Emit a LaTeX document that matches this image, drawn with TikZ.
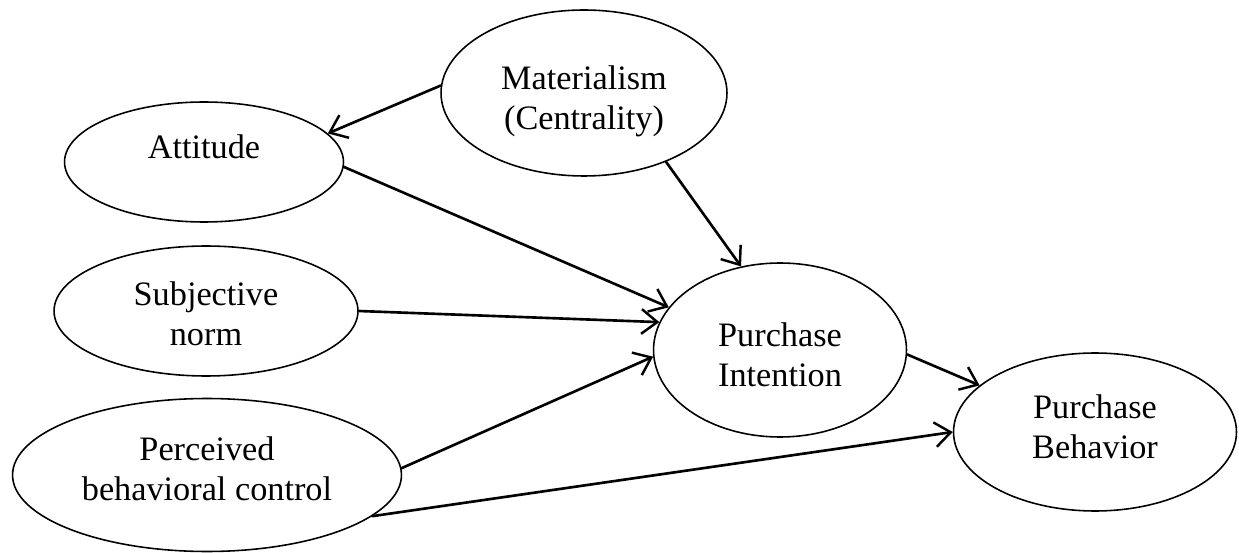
\documentclass[tikz,border=0pt]{standalone}
\usepackage{fontspec}
\setmainfont{Liberation Serif}
\usetikzlibrary{shapes.geometric,arrows.meta}

\begin{document}
\begin{tikzpicture}[
    x=0.02cm, y=-0.02cm,
    every node/.style={font=\fontsize{19.5}{22.8}\selectfont, align=center},
    construct/.style={ellipse, draw=black, line width=0.9pt, inner sep=0pt},
    path/.style={line width=1.5pt, -{Straight Barb[length=9pt,width=14pt,line width=1.4pt]}},
    line join=round,
    line cap=round
]

\useasboundingbox (0,0) rectangle (1239,553);

% ----------------------------------------------------
% Constructs
% ----------------------------------------------------
\node[construct, minimum width=5.72cm, minimum height=3.32cm] (mat) at (584,93) {};
\node[construct, minimum width=5.58cm, minimum height=2.40cm] (att) at (204,162) {};
\node[construct, minimum width=6.08cm, minimum height=2.60cm] (sn)  at (206,311) {};
\node[construct, minimum width=7.78cm, minimum height=3.06cm] (pbc) at (207,475) {};
\node[construct, minimum width=5.06cm, minimum height=3.48cm] (pi)  at (780,350) {};
\node[construct, minimum width=5.66cm, minimum height=3.16cm] (pb)  at (1095,432) {};

% ----------------------------------------------------
% Labels
% ----------------------------------------------------
\node (mat-t) at (584,101) {Materialism\\(Centrality)};
\node (att-t) at (204,147) {Attitude};
\node (sn-t)  at (206,314) {Subjective\\norm};
\node (pbc-t) at (207,469) {Perceived\\behavioral control};
\node (pi-t)  at (780,355) {Purchase\\Intention};
\node (pb-t)  at (1095,427) {Purchase\\Behavior};

% ----------------------------------------------------
% Paths
% ----------------------------------------------------
\draw[path] (mat.177) -- (att.13);
\draw[path] (att.-2) -- (pi.159);
\draw[path] (mat.-40) -- (pi.115);
\draw[path] (sn.0) -- (pi.167);
\draw[path] (pbc.2) -- (pi.-177);
\draw[path] (pbc.-14) -- (pb.180);
\draw[path] (pi.-2) -- (pb.158);

\end{tikzpicture}
\end{document}
